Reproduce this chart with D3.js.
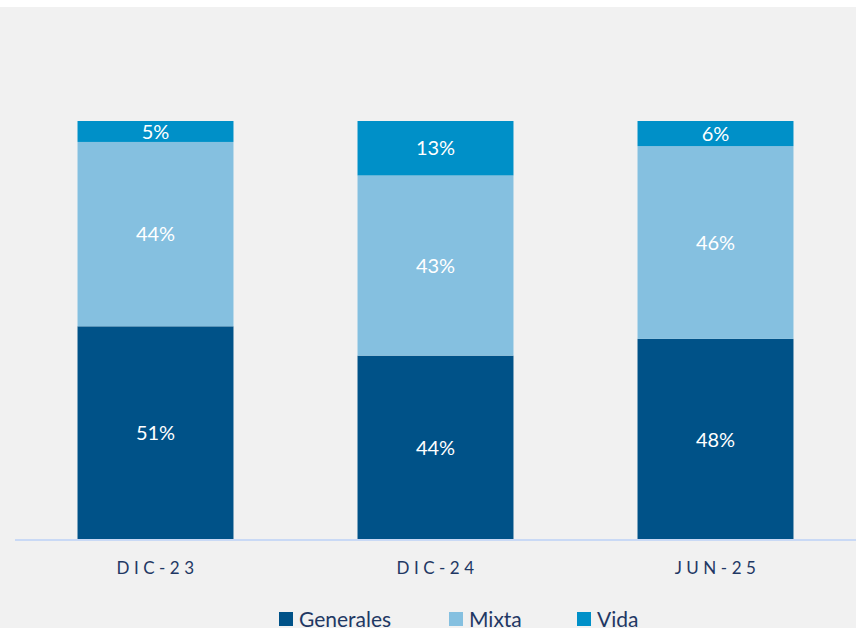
<!DOCTYPE html>
<html>
<head>
<meta charset="utf-8">
<script src="https://cdn.jsdelivr.net/npm/d3@7"></script>
<style>
  body { margin: 0; background: #ffffff; }
  svg { display: block; }
</style>
</head>
<body>
<svg id="drawing_region"></svg>
<script>
var categories = ['DIC-23', 'DIC-24', 'JUN-25'];
var seriesNames = ['Generales', 'Mixta', 'Vida'];
var generales = [51, 44, 48];
var mixta = [44, 43, 46];
var vida = [5, 13, 6];
var colors = ['#005288', '#85c0e0', '#0090c8'];

var width = 856, height = 628;

var svg = d3.select('#drawing_region')
    .attr('width', width)
    .attr('height', height);

svg.append('rect')
    .attr('x', 0).attr('y', 7)
    .attr('width', width).attr('height', height - 7)
    .attr('fill', '#f1f1f1');

// build rows for the stack
var rows = categories.map((c, i) => ({
    label: c, Generales: generales[i], Mixta: mixta[i], Vida: vida[i]
}));

var stack = d3.stack().keys(seriesNames);
var series = stack(rows);

var xscale = d3.scaleBand()
    .domain(categories)
    .range([15.5, 855.5])
    .paddingInner(0.443)
    .paddingOuter(0.2215);

var yscale = d3.scaleLinear()
    .domain([0, 100])
    .range([540, 121]);

var color = d3.scaleOrdinal().domain(seriesNames).range(colors);

var groups = svg.selectAll('g.series')
    .data(series)
    .join('g')
    .attr('class', 'series')
    .attr('fill', d => color(d.key));

groups.selectAll('rect')
    .data(d => d)
    .join('rect')
    .attr('x', d => xscale(d.data.label))
    .attr('y', d => yscale(d[1]))
    .attr('width', xscale.bandwidth())
    .attr('height', d => yscale(d[0]) - yscale(d[1]));

groups.selectAll('text')
    .data(d => d)
    .join('text')
    .attr('x', d => xscale(d.data.label) + xscale.bandwidth() / 2)
    .attr('y', d => (yscale(d[0]) + yscale(d[1])) / 2)
    .attr('dy', '0.36em')
    .attr('text-anchor', 'middle')
    .attr('fill', '#ffffff')
    .style('font-family', 'Lato, sans-serif')
    .style('font-size', '20px')
    .text(d => (d[1] - d[0]) + '%');

// x axis
var xaxis = d3.axisBottom(xscale).tickSize(0).tickPadding(22);
var xaxis_group = svg.append('g')
    .attr('transform', 'translate(0,540)')
    .call(xaxis);
xaxis_group.select('.domain')
    .attr('d', 'M15,0H856')
    .attr('stroke', '#c9d9f5')
    .attr('stroke-width', 2);
xaxis_group.selectAll('.tick text')
    .attr('fill', '#1f3864')
    .style('font-family', 'Lato, sans-serif')
    .style('font-size', '17px')
    .style('letter-spacing', '4.5px')
    .attr('dx', '2px');

// legend
var legendX = [279, 449, 577];
var legend = svg.append('g').selectAll('g')
    .data(seriesNames)
    .join('g')
    .attr('transform', (d, i) => `translate(${legendX[i]},0)`);
legend.append('rect')
    .attr('x', 0).attr('y', 612)
    .attr('width', 14).attr('height', 14)
    .attr('fill', d => color(d));
legend.append('text')
    .attr('x', 20).attr('y', 627)
    .attr('fill', '#1f3864')
    .style('font-family', 'Lato, sans-serif')
    .style('font-size', '21px')
    .text(d => d);
</script>
</body>
</html>
